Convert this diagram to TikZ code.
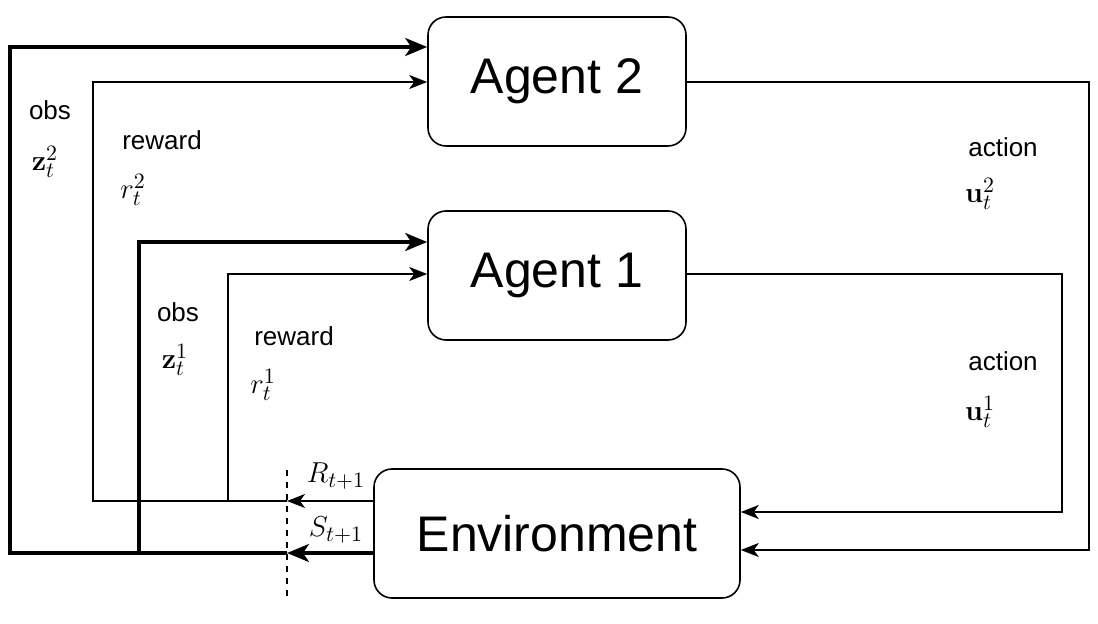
\documentclass[tikz,border=0pt]{standalone}
\usepackage[no-math]{fontspec}
\setmainfont{Liberation Sans}
\usetikzlibrary{arrows.meta}
\begin{document}
\begin{tikzpicture}[x=0.5pt,y=-0.5pt,
  box/.style={draw,line width=0.8pt,rounded corners=9pt,inner sep=0pt,font=\fontsize{25}{28}\selectfont},
  thinarr/.style={line width=0.7pt,-{Stealth[length=9pt,width=7pt,inset=2.5pt]}},
  thkarr/.style={line width=1.6pt,-{Stealth[length=11pt,width=9pt,inset=3pt]}},
  lbl/.style={font=\fontsize{13}{15}\selectfont},
  mlbl/.style={font=\fontsize{15}{17}\selectfont}]
\useasboundingbox (0,0) rectangle (1098,624);
\node[box,minimum width=129pt,minimum height=64.5pt] (a2) at (557,81.5) {Agent 2};
\node[box,minimum width=129pt,minimum height=64.5pt] (a1) at (557,275.5) {Agent 1};
\node[box,minimum width=183pt,minimum height=64.5pt] (env) at (557,533.5) {Environment};
\coordinate (R) at (287,501);
\coordinate (S) at (287,553);
\draw[dashed,line width=0.7pt] (287,470) -- (287,600);
\draw[thinarr] (env.west |- R) -- (R);
\draw[thkarr] (env.west |- S) -- (S);
\draw[thkarr] (S) -- (10,553) -- (10,47) -- (a2.west |- 0,47);
\draw[thinarr] (R) -- (93,501) -- (93,82) -- (a2.west |- 0,82);
\draw[thkarr] (139,553) -- (139,242) -- (a1.west |- 0,242);
\draw[thinarr] (228,501) -- (228,274) -- (a1.west |- 0,274);
\draw[thinarr] (a1.east |- 0,274) -- (1062,274) -- (1062,512) -- (env.east |- 0,512);
\draw[thinarr] (a2.east |- 0,82) -- (1089,82) -- (1089,550) -- (env.east |- 0,550);
\node[lbl] (o2) at (50,110) {obs};
\node[mlbl] (z2) at (45,162) {$\mathbf{z}_t^2$};
\node[lbl] (rw2) at (162,140) {reward};
\node[mlbl] (r2) at (133,190) {$r_t^2$};
\node[lbl] (o1) at (178,312) {obs};
\node[mlbl] (z1) at (175,360) {$\mathbf{z}_t^1$};
\node[lbl] (rw1) at (294,336) {reward};
\node[mlbl] (r1) at (263,385) {$r_t^1$};
\node[lbl] (ac2) at (1003,147) {action};
\node[mlbl] (u2) at (980,194) {$\mathbf{u}_t^2$};
\node[lbl] (ac1) at (1003,361) {action};
\node[mlbl] (u1) at (980,412) {$\mathbf{u}_t^1$};
\node[mlbl] (Rl) at (336,476) {$R_{t+1}$};
\node[mlbl] (Sl) at (336,530) {$S_{t+1}$};
\end{tikzpicture}
\end{document}
